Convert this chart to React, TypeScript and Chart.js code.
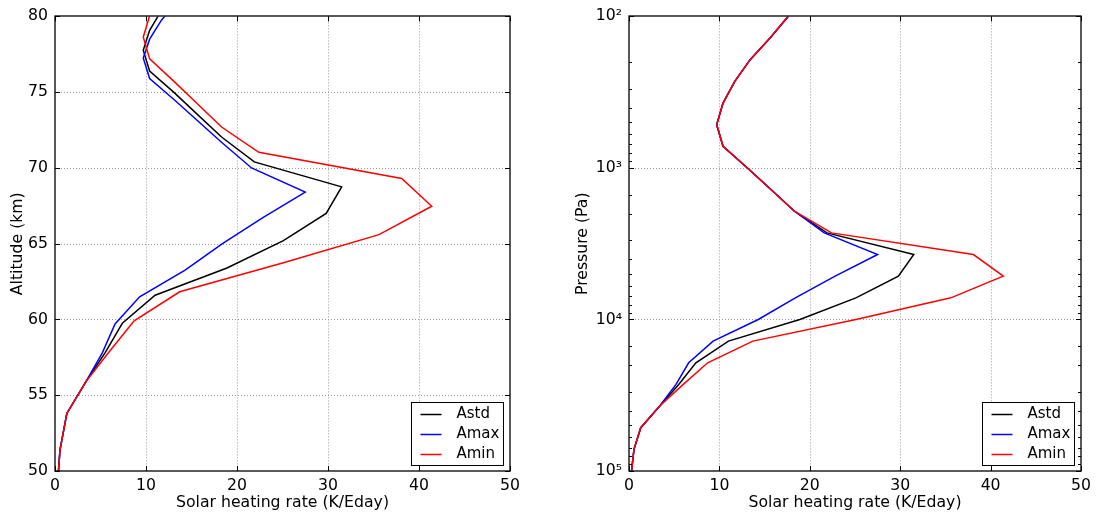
import React, { useEffect, useRef } from 'react';
import { Chart, registerables } from 'chart.js';

Chart.register(...registerables);

// ---------------- data ----------------
const seriesLabels = ['Astd', 'Amax', 'Amin'];
const seriesColors = ['#000000', '#0000ff', '#ff0000'];

// pressure levels (Pa)
const pressureLevels = [100, 139, 193, 268, 373, 518, 720, 1000, 1389, 1931, 2683, 3728, 5179, 7197, 10000, 13895, 19307, 26827, 37276, 51795, 71969, 100000];

// solar heating rate (K/Eday) at each level
const rateAstd = [17.6, 15.6, 13.4, 11.7, 10.4, 9.7, 10.4, 13.1, 15.7, 18.3, 21.9, 31.5, 29.8, 25.1, 18.9, 11.0, 7.4, 5.5, 3.4, 1.3, 0.55, 0.28];
const rateAmax = [17.6, 15.6, 13.4, 11.7, 10.4, 9.7, 10.4, 13.1, 15.7, 18.3, 21.6, 27.5, 22.8, 18.4, 14.3, 9.3, 6.6, 5.2, 3.4, 1.3, 0.55, 0.28];
const rateAmin = [17.6, 15.6, 13.4, 11.7, 10.4, 9.7, 10.4, 13.1, 15.7, 18.3, 22.4, 38.1, 41.4, 35.6, 25.1, 13.7, 8.7, 6.0, 3.4, 1.3, 0.55, 0.28];

// altitude (km) of each level for each profile
const altAstd = [84.3, 83.0, 81.7, 80.4, 79.08, 77.76, 76.4, 74.97, 73.5, 72.04, 70.4, 68.75, 67.0, 65.2, 63.4, 61.6, 59.75, 57.8, 55.9, 53.8, 51.4, 49.2];
const altAmax = [83.5, 82.25, 81.0, 79.75, 78.5, 77.25, 75.9, 74.5, 73.1, 71.7, 70.0, 68.4, 66.7, 65.0, 63.25, 61.5, 59.7, 57.8, 55.9, 53.8, 51.4, 49.2];
const altAmin = [85.65, 84.25, 82.85, 81.45, 80.05, 78.64, 77.2, 75.7, 74.2, 72.7, 71.03, 69.3, 67.47, 65.6, 63.74, 61.83, 59.91, 57.9, 55.9, 53.8, 51.4, 49.2];

const xTitle = 'Solar heating rate (K/Eday)';
const leftYTitle = 'Altitude (km)';
const rightYTitle = 'Pressure (Pa)';

const FONT_FAMILY = '"DejaVu Sans", sans-serif';
const SUP: Record<string, string> = { '0': '⁰', '1': '¹', '2': '²', '3': '³', '4': '⁴', '5': '⁵', '6': '⁶', '7': '⁷', '8': '⁸', '9': '⁹' };

function isPow10(v: number) {
  const l = Math.log10(v);
  return Math.abs(l - Math.round(l)) < 1e-9;
}

function makeDatasets(ys: number[][]) {
  const rates = [rateAstd, rateAmax, rateAmin];
  return seriesLabels.map((label, i) => ({
    label,
    data: rates[i].map((x, k) => ({ x, y: ys[i][k] })),
    borderColor: seriesColors[i],
    backgroundColor: seriesColors[i],
    borderWidth: 1.5,
    pointRadius: 0,
    pointHoverRadius: 0,
    showLine: true,
    fill: false,
    tension: 0,
    clip: 0,
    order: 2 - i,
  }));
}

const mplPlugin = {
  id: 'mpl',
  beforeDatasetsDraw(chart: any, _args: any, opts: any) {
    const { ctx, chartArea: a, scales } = chart;
    const logY = !!opts.logY;
    ctx.save();
    ctx.strokeStyle = '#9a9a9a';
    ctx.lineWidth = 1;
    ctx.setLineDash([1, 2]);
    scales.x.ticks.forEach((t: any) => {
      const px = Math.round(scales.x.getPixelForValue(t.value)) + 0.5;
      if (px > a.left + 2 && px < a.right - 2) {
        ctx.beginPath();
        ctx.moveTo(px, a.top);
        ctx.lineTo(px, a.bottom);
        ctx.stroke();
      }
    });
    scales.y.ticks.forEach((t: any) => {
      if (logY && !isPow10(t.value)) return;
      const py = Math.round(scales.y.getPixelForValue(t.value)) + 0.5;
      if (py > a.top + 2 && py < a.bottom - 2) {
        ctx.beginPath();
        ctx.moveTo(a.left, py);
        ctx.lineTo(a.right, py);
        ctx.stroke();
      }
    });
    ctx.restore();
  },
  afterDatasetsDraw(chart: any, _args: any, opts: any) {
    const { ctx, chartArea: a, scales } = chart;
    const logY = !!opts.logY;
    ctx.save();
    ctx.setLineDash([]);
    // ticks (inward, all sides)
    ctx.strokeStyle = '#000';
    ctx.lineWidth = 1;
    scales.x.ticks.forEach((t: any) => {
      const px = Math.round(scales.x.getPixelForValue(t.value)) + 0.5;
      ctx.beginPath();
      ctx.moveTo(px, a.bottom);
      ctx.lineTo(px, a.bottom - 5);
      ctx.moveTo(px, a.top);
      ctx.lineTo(px, a.top + 5);
      ctx.stroke();
    });
    scales.y.ticks.forEach((t: any) => {
      const len = logY && !isPow10(t.value) ? 3 : 5;
      const py = Math.round(scales.y.getPixelForValue(t.value)) + 0.5;
      ctx.beginPath();
      ctx.moveTo(a.left, py);
      ctx.lineTo(a.left + len, py);
      ctx.moveTo(a.right, py);
      ctx.lineTo(a.right - len, py);
      ctx.stroke();
    });
    // frame
    ctx.strokeStyle = '#000';
    ctx.lineWidth = 1.3;
    ctx.strokeRect(Math.round(a.left), Math.round(a.top), Math.round(a.right) - Math.round(a.left), Math.round(a.bottom) - Math.round(a.top));

    // legend (lower right, inside)
    const boxW = 92;
    const boxH = 63;
    const bx = Math.round(a.right - 7 - boxW) + 0.5;
    const by = Math.round(a.bottom - 6 - boxH) + 0.5;
    ctx.fillStyle = '#fff';
    ctx.fillRect(bx, by, boxW, boxH);
    ctx.strokeStyle = '#000';
    ctx.lineWidth = 1;
    ctx.strokeRect(bx, by, boxW, boxH);
    ctx.font = `15px ${FONT_FAMILY}`;
    ctx.textBaseline = 'middle';
    ctx.textAlign = 'left';
    chart.data.datasets.forEach((ds: any, i: number) => {
      const ry = Math.round(by + 11 + i * 20.4) + 0.5;
      ctx.strokeStyle = ds.borderColor;
      ctx.lineWidth = 1.5;
      ctx.beginPath();
      ctx.moveTo(bx + 9, ry);
      ctx.lineTo(bx + 30, ry);
      ctx.stroke();
      ctx.fillStyle = '#000';
      ctx.fillText(ds.label, bx + 45, ry);
    });
    ctx.restore();
  },
};

const tickFont = { family: FONT_FAMILY, size: 15.7 };
const titleFont = { family: FONT_FAMILY, size: 15.7 };

function xScale() {
  return {
    type: 'linear',
    min: 0,
    max: 50,
    ticks: { stepSize: 10, padding: 6, color: '#000', font: tickFont, maxRotation: 0, autoSkip: false },
    grid: { display: false, drawTicks: false },
    border: { display: false },
    title: { display: true, text: xTitle, color: '#000', font: titleFont, padding: { top: 0, bottom: 2 } },
    afterFit: (s: any) => {
      s.height = 43;
    },
  };
}

function ChartCanvas({ config, left, width }: { config: any; left: number; width: number }) {
  const ref = useRef<HTMLCanvasElement | null>(null);
  useEffect(() => {
    if (!ref.current) return;
    const chart = new Chart(ref.current, config);
    return () => chart.destroy();
  }, []);
  return (
    <canvas
      ref={ref}
      width={width}
      height={514}
      style={{ position: 'absolute', left, top: 0, width, height: 514 }}
    />
  );
}

export default function App() {
  const leftConfig = {
    type: 'scatter',
    data: { datasets: makeDatasets([altAstd, altAmax, altAmin]) },
    options: {
      animation: false,
      responsive: false,
      maintainAspectRatio: false,
      devicePixelRatio: 1,
      events: [],
      layout: { padding: { top: 16, right: 38, bottom: 0, left: 0 } },
      plugins: { legend: { display: false }, tooltip: { enabled: false }, mpl: { logY: false } },
      scales: {
        x: xScale(),
        y: {
          type: 'linear',
          min: 50,
          max: 80,
          ticks: { stepSize: 5, padding: 7, color: '#000', font: tickFont, autoSkip: false },
          grid: { display: false, drawTicks: false },
          border: { display: false },
          title: { display: true, text: leftYTitle, color: '#000', font: titleFont, padding: { top: 9, bottom: 0 } },
          afterFit: (s: any) => {
            s.width = 55;
          },
        },
      },
    },
    plugins: [mplPlugin],
  };

  const rightConfig = {
    type: 'scatter',
    data: { datasets: makeDatasets([pressureLevels, pressureLevels, pressureLevels]) },
    options: {
      animation: false,
      responsive: false,
      maintainAspectRatio: false,
      devicePixelRatio: 1,
      events: [],
      layout: { padding: { top: 16, right: 13, bottom: 0, left: 0 } },
      plugins: { legend: { display: false }, tooltip: { enabled: false }, mpl: { logY: true } },
      scales: {
        x: xScale(),
        y: {
          type: 'logarithmic',
          min: 100,
          max: 100000,
          reverse: true,
          ticks: {
            padding: 7,
            color: '#000',
            font: tickFont,
            autoSkip: false,
            callback: (v: any) => {
              const n = Number(v);
              if (!isPow10(n)) return '';
              const e = String(Math.round(Math.log10(n)));
              return '10' + e.split('').map((c) => SUP[c]).join('');
            },
          },
          grid: { display: false, drawTicks: false },
          border: { display: false },
          title: { display: true, text: rightYTitle, color: '#000', font: titleFont, padding: { top: 26, bottom: 0 } },
          afterFit: (s: any) => {
            s.width = 81;
          },
        },
      },
    },
    plugins: [mplPlugin],
  };

  return (
    <div style={{ position: 'absolute', left: 0, top: 0, width: 1097, height: 514, background: '#fff', overflow: 'hidden' }}>
      <ChartCanvas config={leftConfig} left={0} width={548} />
      <ChartCanvas config={rightConfig} left={548} width={549} />
    </div>
  );
}
